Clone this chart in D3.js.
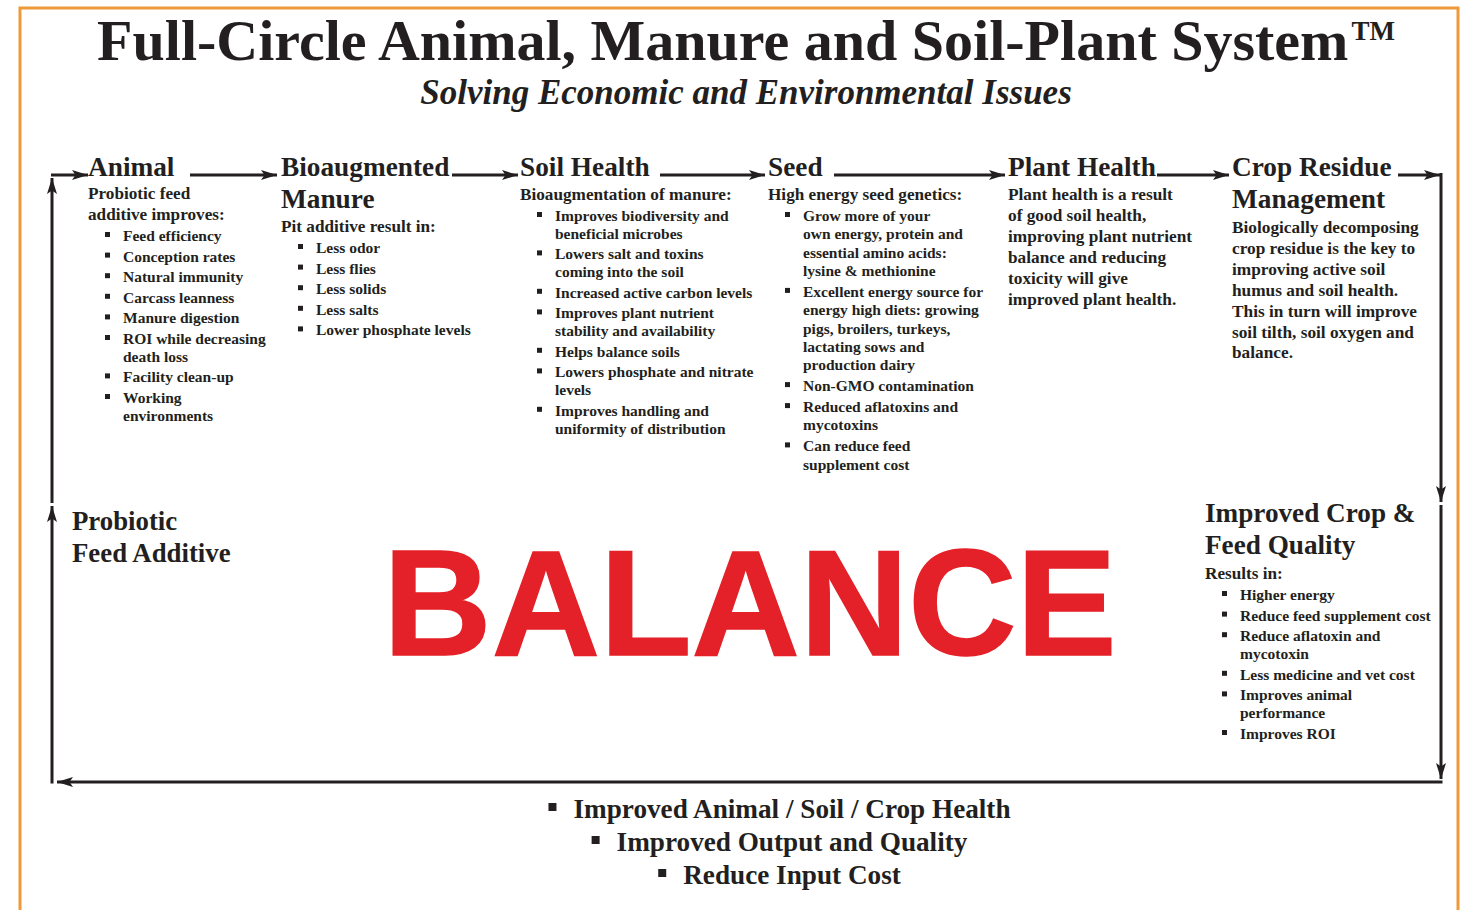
<!DOCTYPE html>
<html>
<head>
<meta charset="utf-8">
<script src="https://cdn.jsdelivr.net/npm/d3@7"></script>
<style>
  html, body { margin: 0; padding: 0; background: #fff; }
  svg { display: block; }
</style>
</head>
<body>
<svg id="chart" width="1474" height="910"></svg>
<script>
// ---------- DATA (text content only) ----------
const titleText = "Full-Circle Animal, Manure and Soil-Plant System";
const trademark = "TM";
const subtitleText = "Solving Economic and Environmental Issues";

const animalHeading = ["Animal"];
const animalIntro = ["Probiotic feed", "additive improves:"];
const animalBullets = [
  ["Feed efficiency"], ["Conception rates"], ["Natural immunity"], ["Carcass leanness"],
  ["Manure digestion"], ["ROI while decreasing", "death loss"], ["Facility clean-up"],
  ["Working", "environments"]
];

const manureHeading = ["Bioaugmented", "Manure"];
const manureIntro = ["Pit additive result in:"];
const manureBullets = [["Less odor"], ["Less flies"], ["Less solids"], ["Less salts"], ["Lower phosphate levels"]];

const soilHeading = ["Soil Health"];
const soilIntro = ["Bioaugmentation of manure:"];
const soilBullets = [
  ["Improves biodiversity and", "beneficial microbes"],
  ["Lowers salt and toxins", "coming into the soil"],
  ["Increased active carbon levels"],
  ["Improves plant nutrient", "stability and availability"],
  ["Helps balance soils"],
  ["Lowers phosphate and nitrate", "levels"],
  ["Improves handling and", "uniformity of distribution"]
];

const seedHeading = ["Seed"];
const seedIntro = ["High energy seed genetics:"];
const seedBullets = [
  ["Grow more of your", "own energy, protein and", "essential amino acids:", "lysine & methionine"],
  ["Excellent energy source for", "energy high diets: growing", "pigs, broilers, turkeys,", "lactating sows and", "production dairy"],
  ["Non-GMO contamination"],
  ["Reduced aflatoxins and", "mycotoxins"],
  ["Can reduce feed", "supplement cost"]
];

const plantHeading = ["Plant Health"];
const plantText = ["Plant health is a result", "of good soil health,", "improving plant nutrient",
  "balance and reducing", "toxicity will give", "improved plant health."];

const residueHeading = ["Crop Residue", "Management"];
const residueText = ["Biologically decomposing", "crop residue is the key to", "improving active soil",
  "humus and soil health.", "This in turn will improve", "soil tilth, soil oxygen and", "balance."];

const qualityHeading = ["Improved Crop &", "Feed Quality"];
const qualityIntro = ["Results in:"];
const qualityBullets = [
  ["Higher energy"], ["Reduce feed supplement cost"], ["Reduce aflatoxin and", "mycotoxin"],
  ["Less medicine and vet cost"], ["Improves animal", "performance"], ["Improves ROI"]
];

const probioticHeading = ["Probiotic", "Feed Additive"];
const centerWord = "BALANCE";
const outcomes = ["Improved Animal / Soil / Crop Health", "Improved Output and Quality", "Reduce Input Cost"];

// ---------- STYLE / LAYOUT ----------
const INK = "#231f20";
const SERIF = "'Liberation Serif', 'Times New Roman', Times, serif";
const SANS = "'Liberation Sans', Arial, Helvetica, sans-serif";
const HEAD = 27.3, INTRO = 17.2, BODY = 15.5, PARA = 17.3;

const svg = d3.select("#chart");

// orange frame
svg.append("rect")
  .attr("x", 20).attr("y", 8).attr("width", 1438).attr("height", 920)
  .attr("fill", "none").attr("stroke", "#ee9a3a").attr("stroke-width", 3);

// title
const title = svg.append("text")
  .attr("x", 746).attr("y", 60)
  .attr("text-anchor", "middle")
  .attr("font-family", SERIF).attr("font-weight", "bold")
  .attr("font-size", 58).attr("fill", INK);
title.append("tspan").text(titleText);
title.append("tspan").attr("font-size", 27).attr("dy", -20).attr("dx", 3).text(trademark);

svg.append("text")
  .attr("x", 746).attr("y", 104)
  .attr("text-anchor", "middle")
  .attr("font-family", SERIF).attr("font-weight", "bold").attr("font-style", "italic")
  .attr("font-size", 35).attr("fill", INK)
  .text(subtitleText);

// arrow marker
const defs = svg.append("defs");
defs.append("marker")
  .attr("id", "arrow")
  .attr("viewBox", "0 0 16 10")
  .attr("refX", 16).attr("refY", 5)
  .attr("markerWidth", 16).attr("markerHeight", 10)
  .attr("markerUnits", "userSpaceOnUse")
  .attr("orient", "auto")
  .append("path").attr("d", "M0,0 L16,5 L0,10 L3.5,5 Z").attr("fill", INK);

const lineGen = d3.line();
function arrow(points, head = true) {
  svg.append("path")
    .attr("d", lineGen(points))
    .attr("fill", "none").attr("stroke", INK).attr("stroke-width", 3)
    .attr("marker-end", head ? "url(#arrow)" : null);
}

const topY = 175, leftX = 52, rightX = 1441, bottomY = 782;
// top flow arrows
arrow([[leftX - 1, topY], [88, topY]]);
arrow([[190, topY], [277, topY]]);
arrow([[452, topY], [518, topY]]);
arrow([[660, topY], [765, topY]]);
arrow([[834, topY], [1005, topY]]);
arrow([[1157, topY], [1229, topY]]);
arrow([[1398, topY], [1440, topY]]);
// right side down
arrow([[rightX, topY - 2], [rightX, 502]]);
arrow([[rightX, 505], [rightX, 779]]);
// bottom line to the left
arrow([[rightX + 1.5, bottomY], [57, bottomY]]);
// left side up
arrow([[leftX, bottomY + 1.5], [leftX, 506]]);
arrow([[leftX, 503], [leftX, topY + 3]]);

// text helpers
function heading(lines, x, y, size = HEAD, lh = 32) {
  svg.append("g").selectAll("text").data(lines).join("text")
    .attr("x", x).attr("y", (d, i) => y + i * lh)
    .attr("font-family", SERIF).attr("font-weight", "bold")
    .attr("font-size", size).attr("fill", INK)
    .text(d => d);
}

function paragraph(lines, x, y, size = INTRO, lh = 21) {
  svg.append("g").selectAll("text").data(lines).join("text")
    .attr("x", x).attr("y", (d, i) => y + i * lh)
    .attr("font-family", SERIF).attr("font-weight", "bold")
    .attr("font-size", size).attr("fill", INK)
    .text(d => d);
}

function bullets(items, x, y, size = BODY, gap = 20.6, cont = 17.8) {
  const rows = [];
  let cy = y;
  items.forEach((lines, i) => {
    if (i > 0) cy += gap;
    lines.forEach((l, j) => {
      if (j > 0) cy += cont;
      rows.push({ text: l, y: cy, first: j === 0 });
    });
  });
  const g = svg.append("g");
  g.selectAll("rect").data(rows.filter(r => r.first)).join("rect")
    .attr("x", x + 17).attr("y", r => r.y - 9)
    .attr("width", 5).attr("height", 5).attr("fill", INK);
  g.selectAll("text").data(rows).join("text")
    .attr("x", x + 35).attr("y", r => r.y)
    .attr("font-family", SERIF).attr("font-weight", "bold")
    .attr("font-size", size).attr("fill", INK)
    .text(r => r.text);
}

// Animal
heading(animalHeading, 88, 176);
paragraph(animalIntro, 88, 199);
bullets(animalBullets, 88, 241);

// Bioaugmented Manure
heading(manureHeading, 281, 176);
paragraph(manureIntro, 281, 232);
bullets(manureBullets, 281, 253);

// Soil Health
heading(soilHeading, 520, 176);
paragraph(soilIntro, 520, 200);
bullets(soilBullets, 520, 221);

// Seed
heading(seedHeading, 768, 176);
paragraph(seedIntro, 768, 200);
bullets(seedBullets, 768, 221, BODY, 21, 18.3);

// Plant Health
heading(plantHeading, 1008, 176);
paragraph(plantText, 1008, 200, PARA, 21);

// Crop Residue Management
heading(residueHeading, 1232, 176);
paragraph(residueText, 1232, 233, PARA, 20.9);

// Improved Crop & Feed Quality
heading(qualityHeading, 1205, 522, 27.2, 32);
paragraph(qualityIntro, 1205, 579);
bullets(qualityBullets, 1205, 600, BODY, 20.6, 18);

// Probiotic Feed Additive
heading(probioticHeading, 72, 530, 26.8, 32);

// BALANCE
svg.append("text")
  .attr("x", 750).attr("y", 655)
  .attr("text-anchor", "middle")
  .attr("font-family", SANS).attr("font-weight", "bold")
  .attr("font-size", 150).attr("fill", "#e42128")
  .attr("stroke", "#e42128").attr("stroke-width", 1.5)
  .text(centerWord);

// bottom outcomes
const og = svg.append("g");
outcomes.forEach((txt, i) => {
  const y = 818 + i * 33;
  const t = og.append("text")
    .attr("x", 792).attr("y", y)
    .attr("text-anchor", "middle")
    .attr("font-family", SERIF).attr("font-weight", "bold")
    .attr("font-size", 27.2).attr("fill", INK)
    .text(txt);
  const bb = t.node().getBBox();
  og.append("rect")
    .attr("x", bb.x - 25).attr("y", y - 15)
    .attr("width", 8).attr("height", 8).attr("fill", INK);
});
</script>
</body>
</html>
